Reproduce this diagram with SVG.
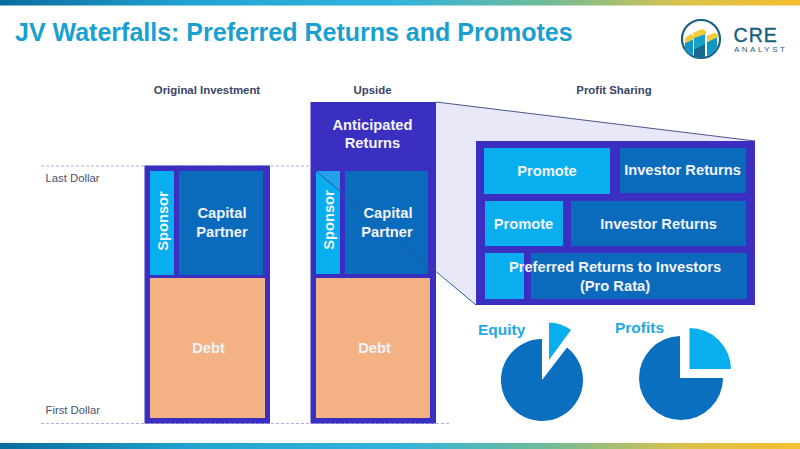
<svg xmlns="http://www.w3.org/2000/svg" width="800" height="449" viewBox="0 0 800 449">
<style>
text{font-family:"Liberation Sans",Arial,sans-serif}
.w{fill:#f2f3fb;font-weight:700;text-anchor:middle;font-size:14.7px}
.h{fill:#3a4468;font-weight:700;font-size:11.4px;text-anchor:middle}
.s{fill:#4a5270;font-size:11.3px}
.fr{fill:#3a2fc0}
.lt{fill:#09aeef}
.dk{fill:#0a6bbd}
.db{fill:#f4b183}
.pt{font-weight:700;font-size:15.5px;fill:#1fa9e4}
.dash{stroke:#b5aedb;stroke-width:1;stroke-dasharray:3 2;fill:none}
</style>
<defs>
<linearGradient id="bar" x1="0" x2="1" y1="0" y2="0">
<stop offset="0" stop-color="#0b6c9e"/><stop offset=".25" stop-color="#23a5d2"/><stop offset=".5" stop-color="#33b3dc"/><stop offset=".68" stop-color="#6fbb98"/><stop offset=".85" stop-color="#d8c24e"/><stop offset="1" stop-color="#f5bf2e"/>
</linearGradient>
</defs>
<rect width="800" height="449" fill="#fff"/>
<rect width="800" height="5.5" fill="url(#bar)"/>
<rect y="443" width="800" height="6" fill="url(#bar)"/>
<text x="15" y="41" font-size="25" font-weight="700" fill="#199fd0">JV Waterfalls: Preferred Returns and Promotes</text>
<g id="logo">
<circle cx="701" cy="39" r="19" fill="#fff" stroke="#17607f" stroke-width="2.2"/>
<path d="M685 43l8-4v17l-3-1-5-5z" fill="#1496c4"/>
<path d="M694 37l11-4v24l-5 1-6-1z" fill="#1a9fc9"/>
<path d="M707 42l10-5v10l-4 6-6 3z" fill="#1496c4"/>
<path d="M694 50l11-6v13l-5 1-6-1z" fill="#17688f"/>
<path d="M685 38l6-4 3 2v3l-9 4z M693 33l9-4 4 2v3l-12 4z M707 36l7-3 4 1v3l-11 5z" fill="#f3cd35"/>
<text x="733.5" y="42" font-size="19.5" fill="#17607f" stroke="#17607f" stroke-width=".4" letter-spacing="1.100">CRE</text>
<text x="734" y="52" font-size="8" fill="#17607f" letter-spacing="2.500">ANALYST</text>
</g>
<g id="headers">
<text class="h" x="207" y="94">Original Investment</text>
<text class="h" x="372.500" y="94">Upside</text>
<text class="h" x="614" y="94">Profit Sharing</text>
<text class="s" x="45.500" y="182">Last Dollar</text>
<text class="s" x="45.500" y="414">First Dollar</text>
</g>
<g id="connectors">
<path class="dash" d="M41 166H476"/>
<path class="dash" d="M41 423.500H449"/>
<path d="M436 102L755 141H476V305L436 270Z" fill="#e8e8f8"/>
<path d="M436 102L755 141" stroke="#4a5590" fill="none"/>
</g>
<g id="original-investment">
<rect class="fr" x="144.500" y="165.500" width="125.500" height="258"/>
<rect class="lt" x="150" y="171" width="24" height="104"/>
<rect class="dk" x="179" y="171" width="84" height="104"/>
<rect class="db" x="150" y="278" width="115" height="140"/>
<text class="w" transform="translate(168 221) rotate(-90)">Sponsor</text>
<text class="w" x="222" y="218">Capital</text>
<text class="w" x="222" y="237">Partner</text>
<text class="w" x="208.500" y="353">Debt</text>
</g>
<g id="upside">
<rect class="fr" x="310.500" y="102" width="125.500" height="321.500"/>
<rect class="lt" x="316" y="171" width="24" height="103"/>
<path d="M316 171H340V191Z" fill="#21a2ea"/>
<rect class="dk" x="345" y="171" width="83" height="103"/>
<rect class="db" x="316" y="278" width="114" height="140"/>
<path d="M316 171L476 305" stroke="#1f5a9e" stroke-width="1" fill="none"/>
<text class="w" x="372.500" y="130">Anticipated</text>
<text class="w" x="372.500" y="148">Returns</text>
<text class="w" transform="translate(334 220) rotate(-90)">Sponsor</text>
<text class="w" x="388" y="218">Capital</text>
<text class="w" x="387" y="237">Partner</text>
<text class="w" x="374.500" y="353">Debt</text>
</g>
<g id="profit-sharing">
<rect class="fr" x="476" y="141" width="279" height="164"/>
<rect class="lt" x="484" y="148" width="126" height="46"/>
<rect class="dk" x="620" y="148" width="126" height="45"/>
<rect class="lt" x="485" y="201" width="78" height="45"/>
<rect class="dk" x="571" y="201" width="175" height="45"/>
<rect class="lt" x="485" y="253" width="39" height="46"/>
<rect class="dk" x="531" y="253" width="216" height="46"/>
<text class="w" x="547" y="176">Promote</text>
<text class="w" x="682.500" y="175">Investor Returns</text>
<text class="w" x="523.500" y="229">Promote</text>
<text class="w" x="658.500" y="229">Investor Returns</text>
<text class="w" x="615" y="272">Preferred Returns to Investors</text>
<text class="w" x="615" y="291">(Pro Rata)</text>
</g>
<g id="equity-pie">
<path fill="#0a6fbe" d="M542 380V339A41 41 0 1 0 567 347.500Z"/>
<path class="lt" d="M549 360V322.500A38 38 0 0 1 571 330Z"/>
<text class="pt" x="478" y="335">Equity</text>
</g>
<g id="profits-pie">
<path fill="#0a6fbe" d="M680 378V336A42 42 0 1 0 723 378Z"/>
<path class="lt" d="M689.500 369V328A41.500 41.500 0 0 1 731 369Z"/>
<text class="pt" x="615" y="333">Profits</text>
</g>
</svg>
